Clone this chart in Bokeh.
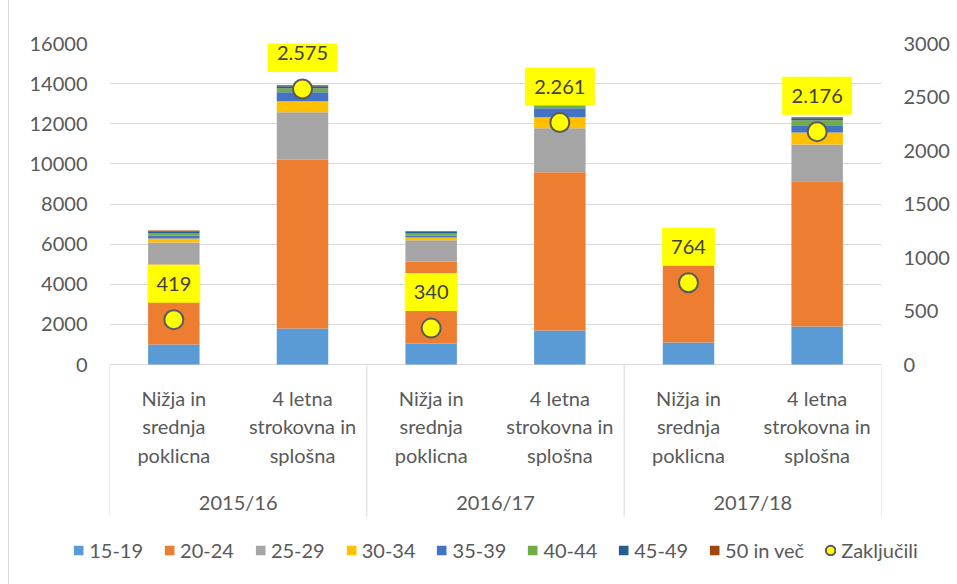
from bokeh.plotting import figure
from bokeh.models import ColumnDataSource, Range1d, LinearAxis, FixedTicker, Legend, LegendItem
from bokeh.core.properties import value
from bokeh.embed import file_html
from bokeh.resources import INLINE

# ---------------- data ----------------
groups = ["2015/16", "2016/17", "2017/18"]
school_types = ["Nižja in\nsrednja\npoklicna", "4 letna\nstrokovna in\nsplošna"]
age_groups = ["15-19", "20-24", "25-29", "30-34", "35-39", "40-44", "45-49", "50 in več"]
v_15_19 = [1000, 1800, 1050, 1700, 1100, 1900]
v_20_24 = [3980, 8400, 4090, 7880, 3840, 7230]
v_25_29 = [1100, 2370, 1050, 2190, 0, 1840]
v_30_34 = [200, 550, 140, 550, 0, 600]
v_35_39 = [150, 450, 100, 450, 0, 350]
v_40_44 = [130, 200, 100, 150, 0, 250]
v_45_49 = [80, 100, 70, 60, 0, 100]
v_50_vec = [40, 50, 40, 30, 0, 50]
zakljucili = [419, 2575, 340, 2261, 764, 2176]
zakljucili_label = "Zaključili"
left_ticks = [0, 2000, 4000, 6000, 8000, 10000, 12000, 14000, 16000]
right_ticks = [0, 500, 1000, 1500, 2000, 2500, 3000]

colors = ["#5B9BD5", "#ED7D31", "#A5A5A5", "#FFC000", "#4472C4", "#70AD47", "#255E91", "#9E480E"]
FONT = "Lato"
TXT = "#595959"
GRID = "#d9d9d9"

# ---------------- layout constants ----------------
FRAME_W = 772
FRAME_H = 482
AXIS_PX = 321                    # pixels from value 0 to 16000
LMAX, RMAX = 16000, 3000
UPP_L = LMAX / AXIS_PX           # left units per pixel
UPP_R = RMAX / AXIS_PX
y_start = -(FRAME_H - AXIS_PX) * UPP_L
yr_start = -(FRAME_H - AXIS_PX) * UPP_R

n = len(groups) * len(school_types)
xs = [i + 0.5 for i in range(n)]

data = dict(x=xs)
series = [v_15_19, v_20_24, v_25_29, v_30_34, v_35_39, v_40_44, v_45_49, v_50_vec]
keys = ["s%d" % i for i in range(len(series))]
for k, s in zip(keys, series):
    data[k] = s
source = ColumnDataSource(data)

p = figure(frame_width=FRAME_W, frame_height=FRAME_H, output_backend="svg",
           toolbar_location=None,
           x_range=Range1d(0, n), y_range=Range1d(y_start, LMAX),
           x_axis_location=None, y_axis_location="left",
           min_border_left=100, min_border_right=72, min_border_top=43,
           min_border_bottom=0)
p.outline_line_color = None
p.background_fill_color = "white"
p.border_fill_color = "white"
p.styles = {"margin-left": "8px", "border-left": "1px solid #d9d9d9"}
p.extra_y_ranges = {"right": Range1d(yr_start, RMAX)}

# axes
yl = p.yaxis[0]
yl.ticker = FixedTicker(ticks=left_ticks)
raxis = LinearAxis(y_range_name="right", ticker=FixedTicker(ticks=right_ticks))
p.add_layout(raxis, "right")
for ax in (yl, raxis):
    ax.axis_line_color = None
    ax.major_tick_line_color = None
    ax.minor_tick_line_color = None
    ax.major_tick_out = 0
    ax.major_tick_in = 0
    ax.major_label_text_font = FONT
    ax.major_label_text_font_size = "20px"
    ax.major_label_text_color = TXT
yl.major_label_standoff = 22
raxis.major_label_standoff = 22

p.xgrid.visible = False
p.ygrid.ticker = FixedTicker(ticks=left_ticks)
p.ygrid.grid_line_color = GRID
p.ygrid.grid_line_width = 1

# stacked bars
bars = p.vbar_stack(keys, x="x", width=0.4, color=colors, line_color=None, source=source)

# category separators
sep_x = [i * len(school_types) for i in range(len(groups) + 1)]
sep_y1 = -152 * UPP_L
p.segment(x0=sep_x, y0=[0] * len(sep_x), x1=sep_x, y1=[sep_y1] * len(sep_x),
          line_color=GRID, line_width=1)

# category labels
sub_labels = school_types * len(groups)
p.text(x=xs, y=[-62 * UPP_L] * n, text=sub_labels, text_align="center",
       text_baseline="middle", text_font=value(FONT), text_font_size="20px",
       text_color=TXT, text_line_height=1.2)
gx = [i * len(school_types) + len(school_types) / 2 for i in range(len(groups))]
p.text(x=gx, y=[-137 * UPP_L] * len(groups), text=groups, text_align="center",
       text_baseline="middle", text_font=value(FONT), text_font_size="20px",
       text_color=TXT)

# completed markers (ellipse in screen units so the legend swatch is a fair size)
sc = p.ellipse(x=xs, y=zakljucili, y_range_name="right", width=19, height=19,
               width_units="screen", height_units="screen",
               fill_color="#FFFF00", line_color="#5a5a5a", line_width=2)

# data labels with yellow boxes
lbl = ["{:,}".format(v).replace(",", ".") for v in zakljucili]
box_w = [18 + 11.6 * sum(c.isdigit() for c in s) + 5.5 * s.count(".") for s in lbl]
lbl_y = [v + 36 * UPP_R for v in zakljucili]
p.rect(x=xs, y=lbl_y, width=box_w, height=38, width_units="screen",
       height_units="screen", y_range_name="right", fill_color="#FFFF00",
       line_color=None)
p.text(x=xs, y=lbl_y, text=lbl, y_range_name="right",
       text_align="center", text_baseline="middle", text_font=value(FONT),
       text_font_size="20px", text_color="#404040")

# legend
items = [LegendItem(label=a, renderers=[r]) for a, r in zip(age_groups, bars)]
items.append(LegendItem(label=zakljucili_label, renderers=[sc]))
legend = Legend(items=items, orientation="horizontal", location="top_center",
                glyph_width=12, glyph_height=12, label_standoff=5, spacing=20,
                padding=0, margin=13, border_line_color=None,
                background_fill_alpha=0,
                label_text_font=FONT, label_text_font_size="20px",
                label_text_color=TXT)
p.add_layout(legend, "below")

open("out.html", "w").write(file_html(p, INLINE))
